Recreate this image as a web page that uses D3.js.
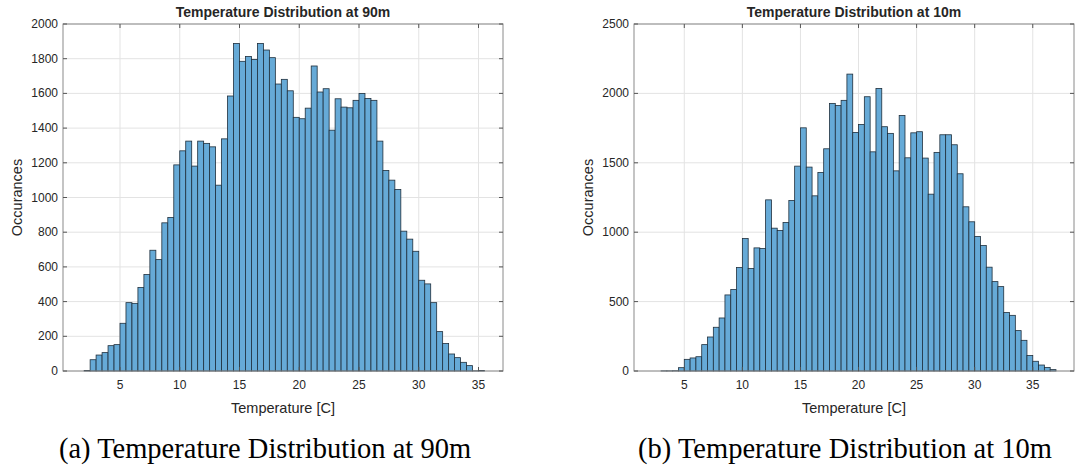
<!DOCTYPE html>
<html>
<head>
<meta charset="utf-8">
<script src="https://cdn.jsdelivr.net/npm/d3@7"></script>
<style>
  body { margin: 0; background: #fff; }
  svg { display: block; }
  text { fill: #262626; font-family: "Liberation Sans", Arial, sans-serif; }
</style>
</head>
<body>
<svg id="chart" width="1075" height="470"></svg>
<script>
// histogram counts, bin width 0.5 C
var binWidth = 0.5;
var firstEdge90 = 2.0;
var counts90 = [3, 65, 92, 106, 146, 152, 275, 394, 390, 481, 556, 696, 642, 854, 885,
  1188, 1269, 1325, 1181, 1325, 1312, 1292, 1071, 1338, 1585, 1888, 1785, 1813, 1796,
  1888, 1850, 1806, 1654, 1681, 1615, 1462, 1454, 1515, 1758, 1608, 1627, 1388, 1569,
  1521, 1517, 1560, 1600, 1571, 1560, 1325, 1156, 1100, 1046, 806, 760, 690, 523, 502,
  394, 227, 158, 98, 77, 50, 31, 1, 3];

var firstEdge10 = 3.0;
var counts10 = [1, 1, 2, 24, 84, 94, 103, 190, 245, 315, 382, 548, 587, 745, 954, 738,
  887, 882, 1233, 1029, 1012, 1070, 1228, 1476, 1752, 1469, 1262, 1430, 1601, 1928,
  1913, 1950, 2139, 1719, 1776, 1976, 1579, 2036, 1760, 1712, 1442, 1841, 1536, 1716,
  1724, 1534, 1274, 1575, 1702, 1702, 1630, 1421, 1183, 1075, 969, 904, 748, 644, 608,
  421, 401, 291, 221, 111, 70, 43, 26, 10];

var xTicks = [5, 10, 15, 20, 25, 30, 35];
var yTicks90 = [0, 200, 400, 600, 800, 1000, 1200, 1400, 1600, 1800, 2000];
var yTicks10 = [0, 500, 1000, 1500, 2000, 2500];

var titles = ["Temperature Distribution at 90m", "Temperature Distribution at 10m"];
var captions = ["(a) Temperature Distribution at 90m", "(b) Temperature Distribution at 10m"];

var svg = d3.select("#chart");

function drawPanel(opts) {
  var x = d3.scaleLinear().domain(opts.xDomain).range([opts.left, opts.right]);
  var y = d3.scaleLinear().domain([0, opts.yMax]).range([opts.bottom, opts.top]);
  var g = svg.append("g");

  // grid
  g.selectAll(".gx").data(opts.xTicks).enter().append("line")
    .attr("x1", function(d) { return x(d); }).attr("x2", function(d) { return x(d); })
    .attr("y1", opts.top).attr("y2", opts.bottom)
    .attr("stroke", "#e3e3e3").attr("stroke-width", 1);
  g.selectAll(".gy").data(opts.yTicks).enter().append("line")
    .attr("y1", function(d) { return y(d); }).attr("y2", function(d) { return y(d); })
    .attr("x1", opts.left).attr("x2", opts.right)
    .attr("stroke", "#e3e3e3").attr("stroke-width", 1);

  // bars
  var bins = opts.counts.map(function(c, i) {
    return { x0: opts.firstEdge + i * binWidth, x1: opts.firstEdge + (i + 1) * binWidth, n: c };
  });
  g.selectAll("rect.bar").data(bins).enter().append("rect")
    .attr("class", "bar")
    .attr("x", function(d) { return x(d.x0); })
    .attr("width", function(d) { return x(d.x1) - x(d.x0); })
    .attr("y", function(d) { return y(d.n); })
    .attr("height", function(d) { return y(0) - y(d.n); })
    .attr("fill", "#66aad7")
    .attr("stroke", "#1f2f3c")
    .attr("stroke-width", 0.8);

  // box
  g.append("rect")
    .attr("x", opts.left).attr("y", opts.top)
    .attr("width", opts.right - opts.left).attr("height", opts.bottom - opts.top)
    .attr("fill", "none").attr("stroke", "#8a8a8a").attr("stroke-width", 1);

  // inward ticks
  var tl = 4;
  opts.xTicks.forEach(function(t) {
    g.append("line").attr("x1", x(t)).attr("x2", x(t))
      .attr("y1", opts.bottom).attr("y2", opts.bottom - tl).attr("stroke", "#555");
    g.append("line").attr("x1", x(t)).attr("x2", x(t))
      .attr("y1", opts.top).attr("y2", opts.top + tl).attr("stroke", "#555");
  });
  opts.yTicks.forEach(function(t) {
    g.append("line").attr("y1", y(t)).attr("y2", y(t))
      .attr("x1", opts.left).attr("x2", opts.left + tl).attr("stroke", "#555");
    g.append("line").attr("y1", y(t)).attr("y2", y(t))
      .attr("x1", opts.right).attr("x2", opts.right - tl).attr("stroke", "#555");
  });

  // tick labels
  g.selectAll(".xl").data(opts.xTicks).enter().append("text")
    .attr("x", function(d) { return x(d); })
    .attr("y", opts.bottom + 18)
    .attr("text-anchor", "middle").style("font-size", "12px")
    .text(function(d) { return d; });
  g.selectAll(".yl").data(opts.yTicks).enter().append("text")
    .attr("x", opts.left - 5)
    .attr("y", function(d) { return y(d) + 4; })
    .attr("text-anchor", "end").style("font-size", "12px")
    .text(function(d) { return d; });

  // labels
  var cx = (opts.left + opts.right) / 2;
  g.append("text").attr("x", cx).attr("y", 17)
    .attr("text-anchor", "middle").style("font-size", "14px").style("font-weight", "bold")
    .text(opts.title);
  g.append("text").attr("x", cx).attr("y", opts.bottom + 42)
    .attr("text-anchor", "middle").style("font-size", "14.5px")
    .text("Temperature [C]");
  g.append("text")
    .attr("transform", "translate(" + (opts.left - 41) + "," + ((opts.top + opts.bottom) / 2) + ") rotate(-90)")
    .attr("text-anchor", "middle").style("font-size", "14.5px")
    .text("Occurances");

  svg.append("text").attr("x", opts.captionX).attr("y", 458)
    .attr("text-anchor", "middle")
    .style("font-family", "'Liberation Serif', 'Times New Roman', serif")
    .style("font-size", "28.5px").style("fill", "#000")
    .text(opts.caption);
}

drawPanel({
  left: 63, right: 503, top: 24, bottom: 371,
  xDomain: [0.23, 37.05], yMax: 2000,
  counts: counts90, firstEdge: firstEdge90,
  xTicks: xTicks, yTicks: yTicks90,
  title: titles[0], caption: captions[0], captionX: 265
});
drawPanel({
  left: 634, right: 1074, top: 24, bottom: 371,
  xDomain: [0.67, 38.55], yMax: 2500,
  counts: counts10, firstEdge: firstEdge10,
  xTicks: xTicks, yTicks: yTicks10,
  title: titles[1], caption: captions[1], captionX: 845
});
</script>
</body>
</html>
